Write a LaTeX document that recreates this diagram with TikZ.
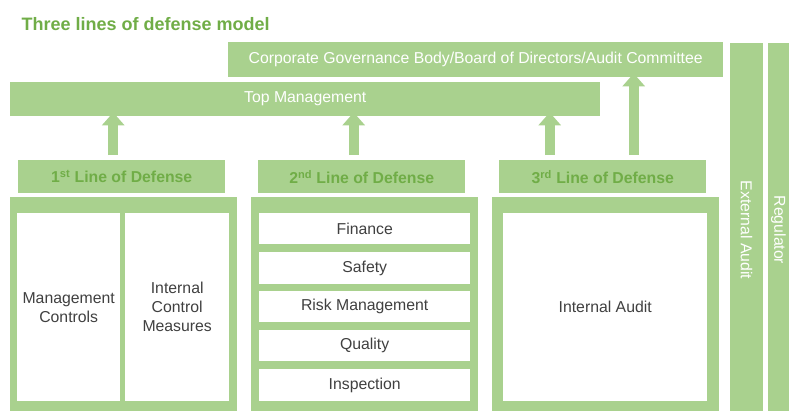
\documentclass[tikz,border=0pt]{standalone}
\usepackage{fontspec}
\setmainfont{Liberation Sans}
\usetikzlibrary{arrows.meta}
\definecolor{boxgreen}{HTML}{A9D18E}
\definecolor{textgreen}{HTML}{70AD47}
\definecolor{textgray}{HTML}{404040}

\begin{document}
\begin{tikzpicture}[x=1pt,y=-1pt]
    \tikzstyle{band}=[fill=boxgreen,inner sep=0pt,anchor=north west,text=white,font=\fontsize{15.8}{19}\selectfont]
    \tikzstyle{linebox}=[fill=boxgreen,inner sep=0pt,anchor=north west,text=textgreen,font=\bfseries\fontsize{15.8}{19}\selectfont,minimum width=207pt,minimum height=33pt]
    \tikzstyle{holder}=[fill=boxgreen,inner sep=0pt,anchor=north west,minimum width=227pt,minimum height=214pt]
    \tikzstyle{cell}=[fill=white,inner sep=0pt,anchor=north west,text=textgray,align=center,font=\fontsize{15.8}{19}\selectfont]
    \tikzstyle{column}=[fill=boxgreen,inner sep=0pt,rotate=-90,text=white,font=\fontsize{15.8}{19}\selectfont,minimum height=33pt]
    \tikzstyle{uparrow}=[boxgreen,line width=10pt,shorten >=1pt,-{Triangle[width=22pt,length=13pt]}]
    \clip (0,0) rectangle (789,410);
    \useasboundingbox (0,0) rectangle (789,410);
    \node[anchor=west,text=textgreen,font=\bfseries\fontsize{18}{21}\selectfont] (title) at (18,24) {Three lines of defense model};
    % top of the hierarchy
    \node[band,minimum width=495pt,minimum height=35pt] (gov) at (228,42) {Corporate Governance Body/Board of Directors/Audit Committee};
    \node[band,minimum width=590pt,minimum height=34pt] (top) at (10,82) {Top Management};
    % outside parties
    \node[column,minimum width=374pt] (ext) at (746.5,230) {External Audit};
    \node[column,minimum width=374pt,minimum height=21pt] (reg) at (778.5,230) {Regulator};
    % the three lines
    \node[linebox] (l1) at (18,160) {1\textsuperscript{st} Line of Defense};
    \node[linebox] (l2) at (258,160) {2\textsuperscript{nd} Line of Defense};
    \node[linebox] (l3) at (499,160) {3\textsuperscript{rd} Line of Defense};
    \node[holder] (c1) at (10,197) {};
    \node[holder] (c2) at (251,197) {};
    \node[holder] (c3) at (492,197) {};
    % first line
    \node[cell,minimum width=103pt,minimum height=188pt] (mc) at (17,213) {Management\\Controls};
    \node[cell,minimum width=104pt,minimum height=188pt] (icm) at (125,213) {Internal\\Control\\Measures};
    % second line
    \node[cell,minimum width=211pt,minimum height=31pt] (fin) at (259,213) {Finance};
    \node[cell,minimum width=211pt,minimum height=32pt] (saf) at (259,252) {Safety};
    \node[cell,minimum width=211pt,minimum height=31pt] (risk) at (259,291) {Risk Management};
    \node[cell,minimum width=211pt,minimum height=31pt] (qual) at (259,330) {Quality};
    \node[cell,minimum width=211pt,minimum height=32pt] (insp) at (259,369) {Inspection};
    % third line
    \node[cell,minimum width=204pt,minimum height=188pt] (ia) at (503,213) {Internal Audit};
    % reporting arrows
    \draw[uparrow] ([xshift=-8.5pt,yshift=5pt]l1.north) -- ([xshift=-8.5pt,yshift=5pt]l1.north |- top.south);
    \draw[uparrow] ([xshift=-8pt,yshift=5pt]l2.north) -- ([xshift=-8pt,yshift=5pt]l2.north |- top.south);
    \draw[uparrow] ([xshift=-53pt,yshift=5pt]l3.north) -- ([xshift=-53pt,yshift=5pt]l3.north |- top.south);
    \draw[uparrow] ([xshift=31pt,yshift=5pt]l3.north) -- ([xshift=31pt,yshift=5pt]l3.north |- gov.south);
\end{tikzpicture}
\end{document}
